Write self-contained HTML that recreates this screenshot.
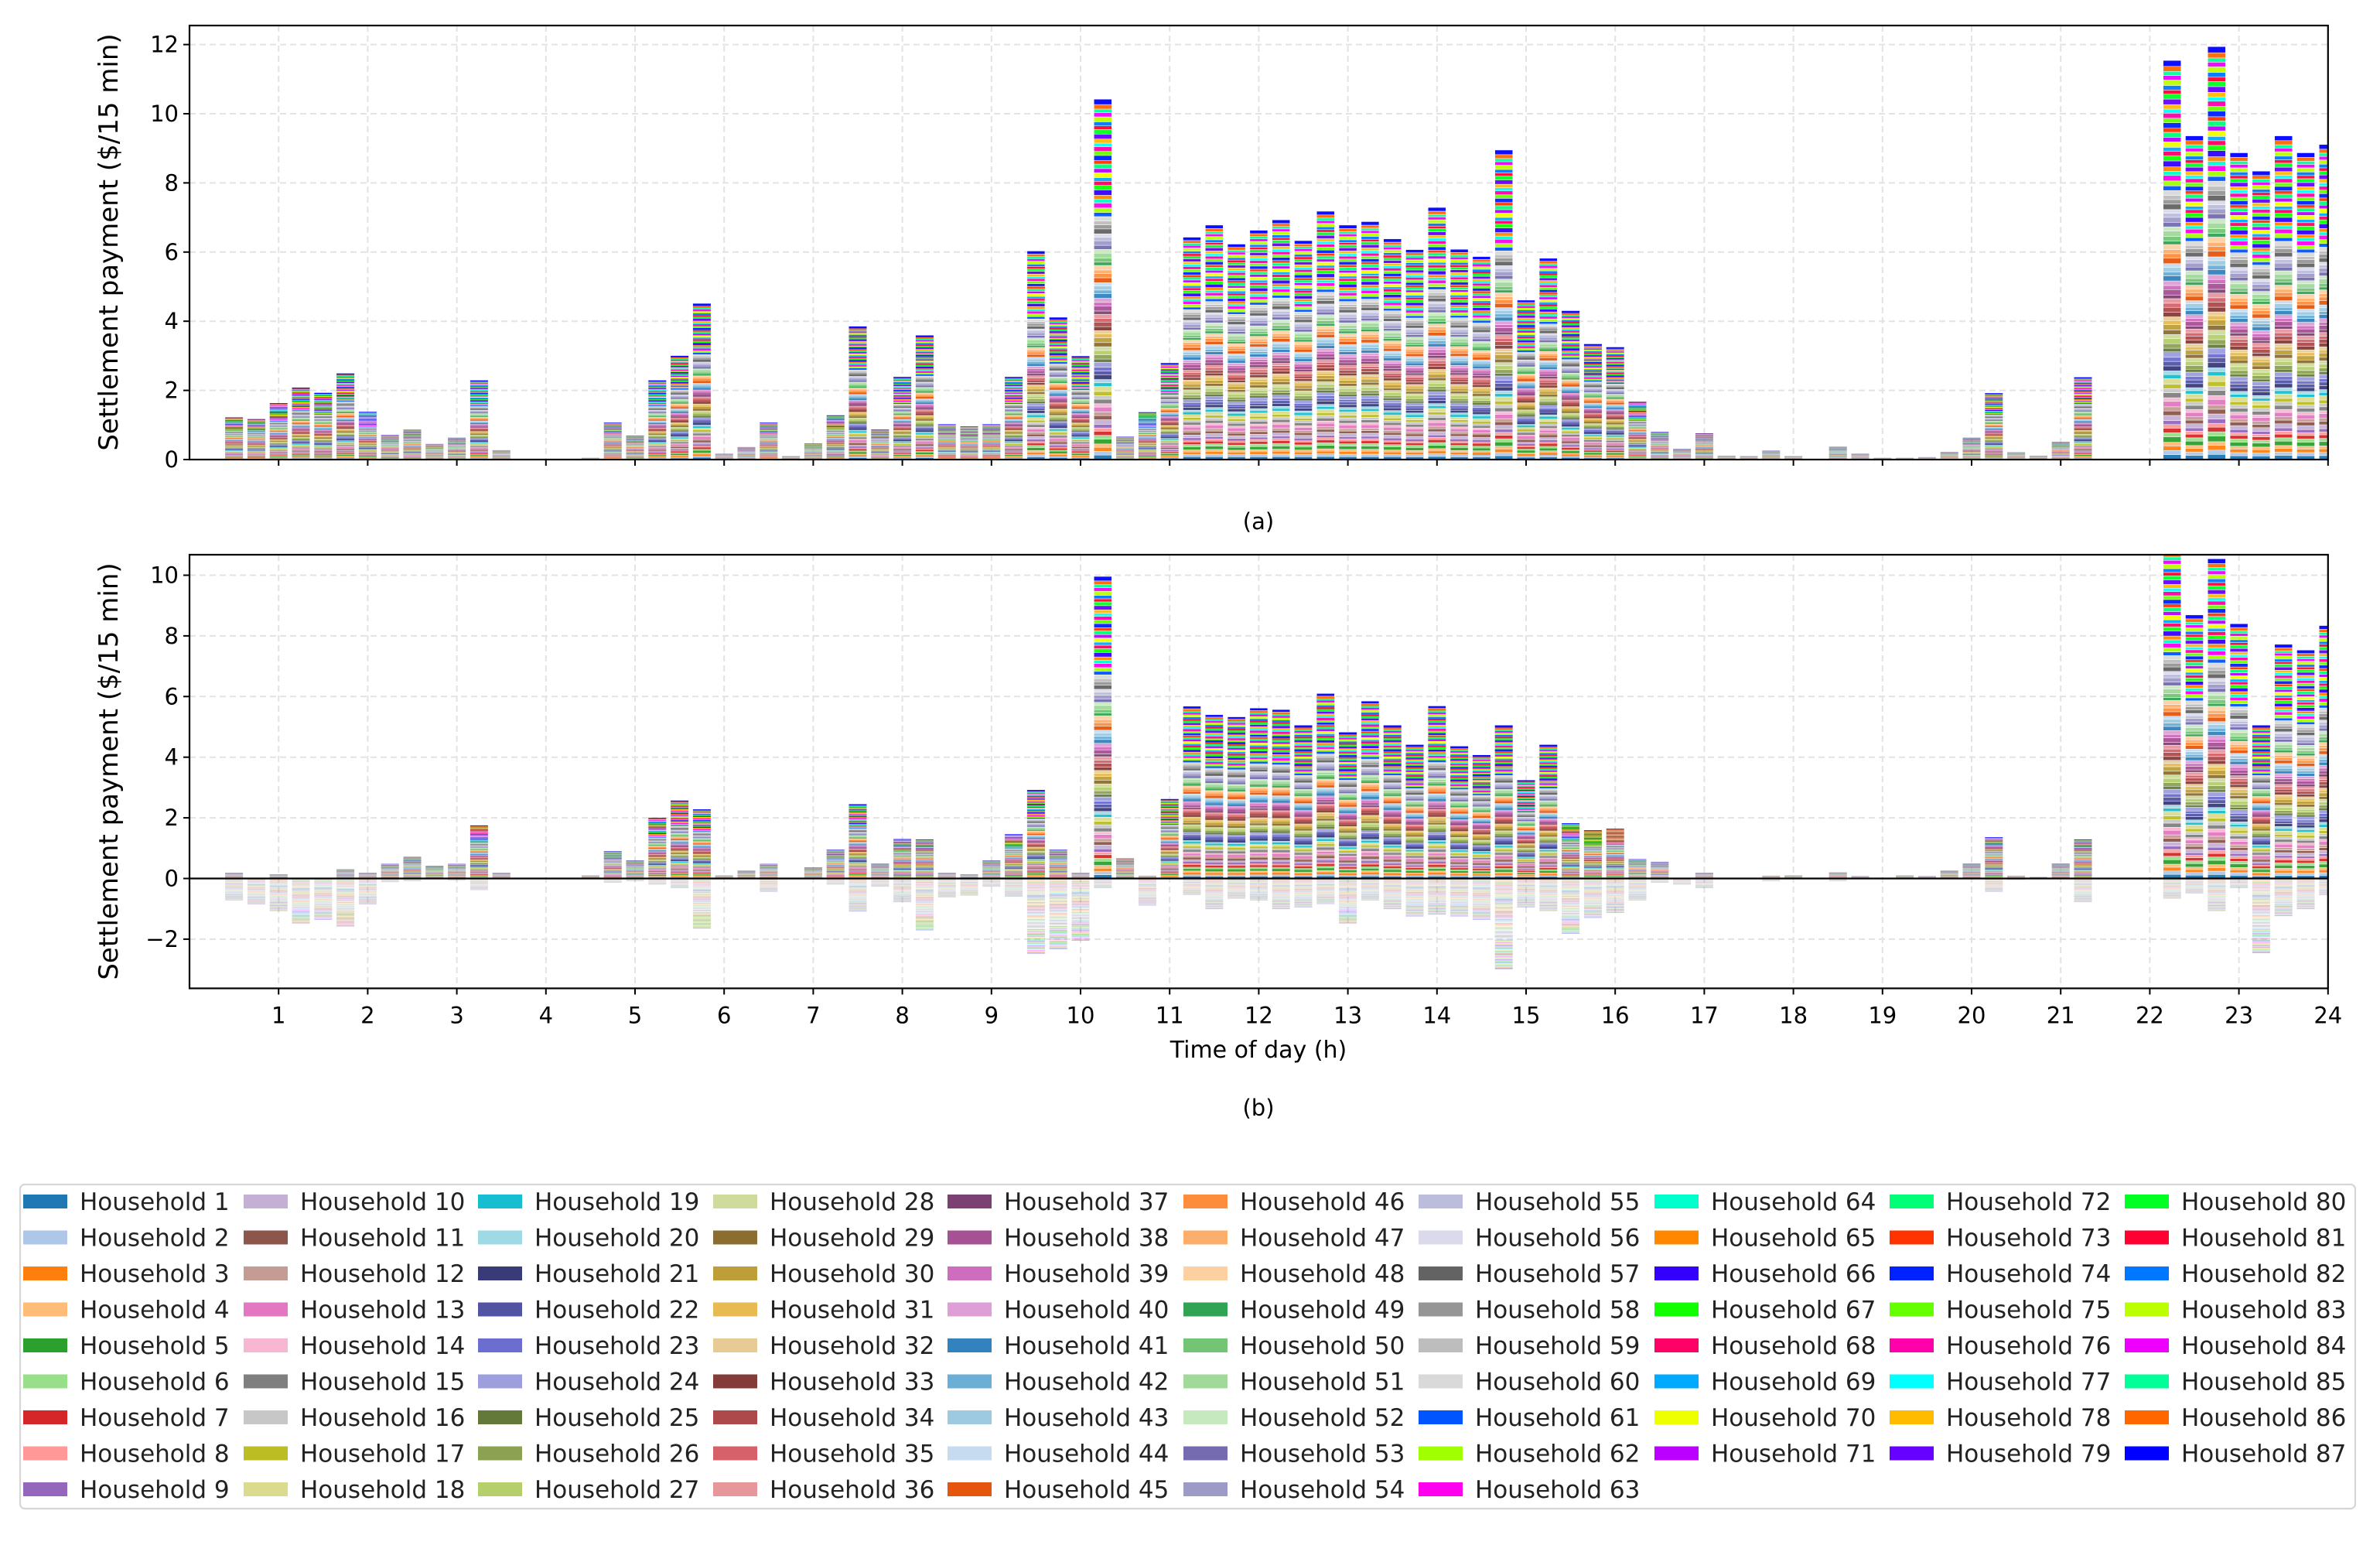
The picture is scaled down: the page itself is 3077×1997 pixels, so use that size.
<!DOCTYPE html>
<html><head><meta charset="utf-8"><title>Settlement payment chart</title>
<style>
html,body{margin:0;padding:0;background:#fff;}
svg{display:block;font-family:"DejaVu Sans","Liberation Sans",sans-serif;}
</style></head>
<body>
<svg id="chart" width="3077" height="1997" viewBox="0 0 3077 1997" xmlns="http://www.w3.org/2000/svg">
<defs>
<clipPath id="clipA"><rect x="245" y="33" width="2765" height="561"/></clipPath>
<clipPath id="clipB"><rect x="245" y="717" width="2765" height="561"/></clipPath>
</defs>
<g id="gridA"></g>
<g id="gridB"></g>
<g id="barsA" clip-path="url(#clipA)"></g>
<g id="barsB" clip-path="url(#clipB)"></g>
<g id="axesA"></g>
<g id="axesB"></g>
<text transform="translate(152,313) rotate(-90)" text-anchor="middle" font-size="34" fill="#000">Settlement payment ($/15 min)</text>
<text transform="translate(152,997) rotate(-90)" text-anchor="middle" font-size="34" fill="#000">Settlement payment ($/15 min)</text>
<text x="1627" y="684" text-anchor="middle" font-size="29" fill="#000">(a)</text>
<text x="1627" y="1367" text-anchor="middle" font-size="30" fill="#000">Time of day (h)</text>
<text x="1627" y="1442" text-anchor="middle" font-size="29" fill="#000">(b)</text>
<g id="legend"></g>
</svg>
<script>
// ---- data ----
const intervalHours = [0.25,0.5,0.75,1,1.25,1.5,1.75,2,2.25,2.5,2.75,3,3.25,3.5,3.75,4,4.25,4.5,4.75,5,5.25,5.5,5.75,6,6.25,6.5,6.75,7,7.25,7.5,7.75,8,8.25,8.5,8.75,9,9.25,9.5,9.75,10,10.25,10.5,10.75,11,11.25,11.5,11.75,12,12.25,12.5,12.75,13,13.25,13.5,13.75,14,14.25,14.5,14.75,15,15.25,15.5,15.75,16,16.25,16.5,16.75,17,17.25,17.5,17.75,18,18.25,18.5,18.75,19,19.25,19.5,19.75,20,20.25,20.5,20.75,21,21.25,21.5,21.75,22,22.25,22.5,22.75,23,23.25,23.5,23.75,24];
const totalA = [0,1.22,1.17,1.63,2.08,1.93,2.49,1.38,0.71,0.86,0.45,0.63,2.29,0.27,0,0,0,0.05,1.07,0.69,2.29,3.0,4.51,0.17,0.36,1.07,0.1,0.47,1.28,3.85,0.87,2.39,3.59,1.02,0.96,1.02,2.39,6.03,4.11,2.99,10.42,0.66,1.37,2.79,6.43,6.78,6.23,6.63,6.93,6.33,7.18,6.78,6.88,6.38,6.07,7.29,6.08,5.87,8.95,4.61,5.82,4.3,3.34,3.25,1.67,0.8,0.31,0.76,0.11,0.1,0.26,0.1,0,0.37,0.17,0.05,0.05,0.07,0.22,0.63,1.92,0.21,0.11,0.51,2.38,0,0,0,11.54,9.36,11.94,8.87,8.34,9.36,8.87,9.11];
const posB = [0,0.19,0.02,0.14,0.02,0.02,0.3,0.19,0.48,0.71,0.42,0.48,1.75,0.19,0,0,0,0.1,0.9,0.6,2.0,2.57,2.28,0.1,0.26,0.48,0,0.37,0.95,2.45,0.49,1.3,1.29,0.19,0.14,0.6,1.46,2.92,0.95,0.19,9.96,0.66,0.09,2.62,5.68,5.4,5.33,5.62,5.57,5.05,6.1,4.82,5.85,5.05,4.41,5.69,4.36,4.07,5.05,3.24,4.41,1.82,1.59,1.64,0.64,0.55,0.02,0.19,0,0,0.09,0.1,0,0.2,0.08,0,0.1,0.08,0.26,0.49,1.36,0.09,0.05,0.49,1.29,0,0,0,10.9,8.69,10.54,8.4,5.05,7.72,7.53,8.34];
const negB = [0,-0.72,-0.85,-1.07,-1.48,-1.36,-1.58,-0.85,-0.12,-0.09,0,-0.07,-0.38,0,0,0,0,0,-0.14,-0.09,-0.2,-0.32,-1.65,0,0,-0.44,0,0,-0.2,-1.09,-0.27,-0.78,-1.71,-0.62,-0.56,-0.27,-0.6,-2.48,-2.33,-2.05,-0.32,0,-0.89,-0.02,-0.54,-1.01,-0.66,-0.72,-1.01,-0.95,-0.84,-1.48,-0.72,-1.01,-1.25,-1.19,-1.25,-1.36,-2.99,-0.95,-1.07,-1.82,-1.3,-1.13,-0.72,-0.14,-0.2,-0.32,0,0,-0.09,0,0,-0.09,0,0,0,0,0,0,-0.44,-0.05,0,0,-0.78,0,0,0,-0.66,-0.49,-1.07,-0.32,-2.46,-1.24,-1.01,-0.55];
const householdShare = [1.1,0.9,1.0,0.8,1.2,0.9,1.0,0.8,0.9,1.1,1.0,0.9,1.2,0.8,1.1,0.9,1.0,1.2,0.9,0.8,1.1,1.0,0.9,1.2,0.8,1.0,1.1,0.9,1.0,1.2,0.9,0.8,1.0,1.1,0.9,1.0,0.8,1.2,0.9,1.0,1.1,0.9,1.0,0.8,1.2,1.0,0.9,1.1,0.8,1.0,1.2,0.9,1.0,1.1,0.9,0.8,1.2,1.0,0.9,1.1,1.0,1.1,1.2,0.9,1.0,1.3,1.1,1.0,0.9,1.2,1.0,1.1,0.9,1.2,1.0,1.1,0.9,1.0,1.2,1.1,0.9,1.0,1.2,1.0,0.9,1.1,1.3];
const householdColors = ["#1f77b4","#aec7e8","#ff7f0e","#ffbb78","#2ca02c","#98df8a","#d62728","#ff9896","#9467bd","#c5b0d5","#8c564b","#c49c94","#e377c2","#f7b6d2","#7f7f7f","#c7c7c7","#bcbd22","#dbdb8d","#17becf","#9edae5",
"#393b79","#5254a3","#6b6ecf","#9c9ede","#637939","#8ca252","#b5cf6b","#cedb9c","#8c6d31","#bd9e39","#e7ba52","#e7cb94","#843c39","#ad494a","#d6616b","#e7969c","#7b4173","#a55194","#ce6dbd","#de9ed6",
"#3182bd","#6baed6","#9ecae1","#c6dbef","#e6550d","#fd8d3c","#fdae6b","#fdd0a2","#31a354","#74c476","#a1d99b","#c7e9c0","#756bb1","#9e9ac8","#bcbddc","#dadaeb","#636363","#969696","#bdbdbd","#d9d9d9",
"#0055ff","#a0ff00","#ff00ee","#00ffcc","#ff8800","#3300ff","#11ff00","#ff0066","#00aaff","#eeff00","#bb00ff","#00ff77","#ff3300","#0022ff","#66ff00","#ff00aa","#00ffff","#ffbb00","#6600ff","#00ff22","#ff0033","#0077ff","#bbff00","#ee00ff","#00ff99","#ff6600","#0000ff"];
const yTicksA = [0,2,4,6,8,10,12];
const yTicksB = [-2,0,2,4,6,8,10];
const xTicks = [1,2,3,4,5,6,7,8,9,10,11,12,13,14,15,16,17,18,19,20,21,22,23,24];

// ---- layout ----
const NS = "http://www.w3.org/2000/svg";
const X0 = 245, HOUR = 115.2, XR = X0 + 24*HOUR;
const A = {top:33, y0:594, bottom:594, unit:44.7};
const B = {top:717, y0:1135.5, bottom:1277.5, unit:39.2};
function xScale(h){ return X0 + h*HOUR; }
function yA(v){ return A.y0 - v*A.unit; }
function yB(v){ return B.y0 - v*B.unit; }
function mk(tag, attrs, parent){ const e=document.createElementNS(NS,tag); for(const k in attrs) e.setAttribute(k,attrs[k]); parent.appendChild(e); return e; }
const shareSum = householdShare.reduce((a,b)=>a+b,0);

function drawGrid(g, P, yfun, yticks, showXLabels, axesG, pname){
  yticks.forEach(v=>{
    const y=yfun(v);
    const gl=mk('line',{x1:X0,x2:XR,y1:y,y2:y,stroke:'#e3e3e3','stroke-width':2,'stroke-dasharray':'8,5'},g);
    
    
    const tk=mk('line',{x1:X0-8,x2:X0,y1:y,y2:y,stroke:'#000','stroke-width':2},axesG);
    
    
    const t=mk('text',{x:X0-14,y:y+10,'text-anchor':'end','font-size':29,fill:'#000'},axesG);
    t.textContent = v<0 ? '\u2212'+Math.abs(v) : String(v);
    
    
  });
  xTicks.forEach(h=>{
    const x=xScale(h);
    const gl=mk('line',{x1:x,x2:x,y1:P.top,y2:P.bottom,stroke:'#e3e3e3','stroke-width':2,'stroke-dasharray':'8,5'},g);
    
    
    const tk=mk('line',{x1:x,x2:x,y1:P.bottom,y2:P.bottom+8,stroke:'#000','stroke-width':2},axesG);
    
    
    if(showXLabels){
      const t=mk('text',{x:x,y:P.bottom+45,'text-anchor':'middle','font-size':29,fill:'#000'},axesG);
      t.textContent=String(h);
      
      
    }
  });
  const fr=mk('rect',{x:X0,y:P.top,width:XR-X0,height:P.bottom-P.top,fill:'none',stroke:'#000','stroke-width':2.2},axesG);
  
  
}

function drawStack(g, h, total, yfun, opacity, pname){
  if(!total) return;
  const bw = 0.2*HOUR;
  let acc = 0;
  for(let i=0;i<householdColors.length;i++){
    const v = total*householdShare[i]/shareSum;
    const ya = yfun(acc), yb = yfun(acc+v);
    const hh = Math.abs(yb-ya);
    const attrs = {x:xScale(h)-bw/2,y:Math.min(ya,yb),width:bw,height:hh,fill:householdColors[i],'fill-opacity':opacity};
    if(hh > 3){ attrs.stroke='#fff'; attrs['stroke-width']=0.5; }
    const r = mk('rect',attrs,g);
    
    
    acc += v;
  }
}

drawGrid(document.getElementById('gridA'),A,yA,yTicksA,false,document.getElementById('axesA'),'panel-a');
drawGrid(document.getElementById('gridB'),B,yB,yTicksB,true,document.getElementById('axesB'),'panel-b');

const gA=document.getElementById('barsA'), gB=document.getElementById('barsB');
intervalHours.forEach((h,i)=>{
  drawStack(gA,h,totalA[i],yA,0.95,'panel-a');
  drawStack(gB,h,posB[i],yB,0.95,'panel-b-positive');
  drawStack(gB,h,negB[i],yB,0.3,'panel-b-negative');
});
const zl=mk('line',{x1:X0,x2:XR,y1:B.y0,y2:B.y0,stroke:'#000','stroke-width':2.2},document.getElementById('axesB'));



// legend: 10 columns, first 7 have 9 rows, last 3 have 8 rows
const lg=document.getElementById('legend');
const box=mk('rect',{x:26,y:1531,width:3019,height:419,rx:6,fill:'#fff',stroke:'#d6d6d6','stroke-width':2.2},lg);


const colX=[27,312,615,919,1222,1527,1831,2136,2440,2744];
householdColors.forEach((c,i)=>{
  let col,row;
  if(i<63){ col=Math.floor(i/9); row=i%9; }
  else { col=7+Math.floor((i-63)/8); row=(i-63)%8; }
  const x=colX[col]+3, y=1553+row*46.5;
  const ent=mk('g',{},lg);
  
  
  const sw=mk('rect',{x:x,y:y-9,width:57,height:18,fill:c},ent);
  
  
  const t=mk('text',{x:x+73,y:y+11,'font-size':31,fill:'#222'},ent);
  t.textContent='Household '+(i+1);
  
  
});
</script>
</body></html>
